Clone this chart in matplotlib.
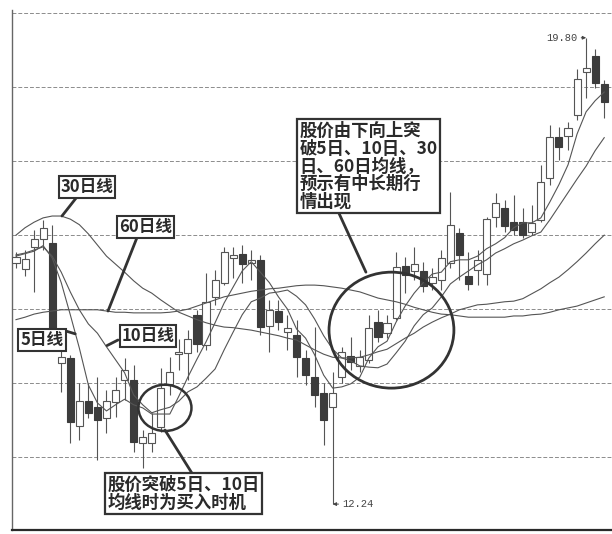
import numpy as np
import matplotlib
matplotlib.use("Agg")
import matplotlib.pyplot as plt
from matplotlib.patches import Ellipse

CJK = ["Noto Sans CJK SC", "DejaVu Sans"]
DARK = "#333333"
GREY = "#555555"

# ---- daily candles (price) ----
opens = [16.15, 16.05, 16.41, 16.54, 16.47, 14.53, 14.61, 13.51, 13.91, 13.81,
         13.64, 13.89, 14.25, 14.25, 13.23, 13.23, 13.49, 14.19, 14.67, 14.69,
         15.31, 14.82, 15.60, 15.83, 16.23, 16.30, 16.15, 16.20, 15.13, 15.37,
         15.03, 14.98, 14.61, 14.30, 14.04, 13.81, 14.30, 14.64, 14.48, 14.58,
         15.19, 15.01, 15.26, 16.10, 16.02, 16.02, 15.83, 15.87, 16.15, 16.64,
         15.94, 16.04, 15.97, 16.90, 17.04, 16.82, 16.82, 16.65, 16.85, 17.53,
         18.19, 18.21, 18.55, 19.25, 19.51, 19.05]
highs = [16.33, 16.36, 16.69, 16.85, 16.77, 14.74, 14.66, 14.20, 14.20, 14.30,
         14.09, 14.30, 14.61, 14.50, 13.44, 13.72, 14.45, 14.62, 14.92, 15.06,
         15.39, 15.99, 16.04, 16.41, 16.41, 16.44, 16.36, 16.28, 15.55, 15.55,
         15.31, 15.23, 14.74, 15.11, 14.20, 14.38, 14.79, 14.95, 14.74, 15.31,
         15.39, 15.31, 16.33, 16.25, 16.41, 16.17, 16.07, 16.36, 17.30, 16.72,
         16.33, 16.36, 16.90, 17.29, 17.17, 17.25, 17.04, 17.09, 17.74, 18.39,
         18.36, 18.44, 19.30, 19.80, 19.61, 19.12]
lows = [16.07, 15.94, 15.68, 16.36, 15.01, 14.06, 13.23, 13.28, 13.64, 12.95,
        13.39, 13.65, 13.93, 13.08, 12.82, 13.08, 13.41, 14.01, 14.41, 14.25,
        14.71, 14.74, 15.47, 15.79, 15.91, 15.83, 15.87, 14.98, 14.71, 15.06,
        14.74, 14.30, 14.17, 13.81, 13.20, 12.24, 14.20, 14.41, 14.38, 14.53,
        14.87, 14.93, 15.23, 15.66, 15.87, 15.68, 15.71, 15.71, 16.07, 15.87,
        15.71, 15.79, 15.79, 16.73, 16.65, 16.60, 16.56, 16.60, 16.82, 17.42,
        17.82, 17.98, 18.47, 18.83, 18.99, 18.50]
closes = [16.25, 16.21, 16.54, 16.72, 15.06, 14.62, 13.57, 13.91, 13.72, 13.60,
          13.91, 14.09, 14.41, 13.25, 13.33, 13.39, 14.12, 14.38, 14.71, 14.92,
          14.84, 15.52, 15.87, 16.33, 16.28, 16.13, 16.20, 15.11, 15.39, 15.19,
          15.10, 14.62, 14.33, 14.01, 13.60, 14.04, 14.71, 14.54, 14.62, 15.10,
          14.95, 15.18, 16.09, 15.96, 16.13, 15.78, 15.92, 16.23, 16.77, 16.28,
          15.81, 16.20, 16.86, 17.12, 16.75, 16.69, 16.60, 16.80, 17.46, 18.19,
          18.03, 18.34, 19.13, 19.31, 19.07, 18.76]

# ---- moving averages as drawn ----
ma5 = [16.26, 16.30, 16.34, 16.43, 16.23, 15.83, 15.31, 14.77, 14.17, 13.88,
       13.75, 13.85, 13.94, 13.85, 13.80, 13.70, 13.70, 13.70, 13.99, 14.30,
       14.59, 14.87, 15.18, 15.50, 15.76, 16.02, 16.17, 16.00, 15.83, 15.60,
       15.40, 15.08, 14.93, 14.66, 14.33, 14.12, 14.14, 14.19, 14.30, 14.61,
       14.79, 14.88, 15.19, 15.45, 15.66, 15.83, 15.97, 16.00, 16.17, 16.20,
       16.20, 16.26, 16.38, 16.46, 16.56, 16.72, 16.80, 16.80, 16.88, 17.14,
       17.42, 17.74, 18.24, 18.60, 18.78, 18.92]
ma10 = [16.28, 16.31, 16.36, 16.41, 16.26, 16.00, 15.68, 15.39, 15.16, 15.01,
        14.79, 14.58, 14.37, 14.01, 13.85, 13.72, 13.77, 13.81, 13.91, 14.06,
        14.14, 14.28, 14.43, 14.74, 15.03, 15.31, 15.52, 15.58, 15.66, 15.68,
        15.71, 15.61, 15.47, 15.24, 14.97, 14.75, 14.61, 14.56, 14.48, 14.46,
        14.45, 14.51, 14.69, 14.88, 15.13, 15.31, 15.42, 15.60, 15.81, 15.92,
        16.02, 16.12, 16.20, 16.31, 16.38, 16.46, 16.52, 16.59, 16.65, 16.85,
        17.07, 17.29, 17.51, 17.72, 17.97, 18.18]
ma30 = [16.60, 16.72, 16.81, 16.88, 16.91, 16.91, 16.86, 16.77, 16.62, 16.44,
        16.26, 16.13, 16.00, 15.86, 15.74, 15.66, 15.55, 15.45, 15.35, 15.29,
        15.23, 15.18, 15.14, 15.11, 15.10, 15.08, 15.06, 15.03, 15.00, 14.97,
        14.93, 14.90, 14.82, 14.74, 14.67, 14.62, 14.61, 14.61, 14.62, 14.66,
        14.71, 14.75, 14.84, 14.93, 15.01, 15.11, 15.19, 15.26, 15.32, 15.39,
        15.43, 15.47, 15.48, 15.50, 15.52, 15.53, 15.57, 15.65, 15.73, 15.83,
        15.92, 16.04, 16.17, 16.31, 16.46, 16.60]
ma60 = [15.23, 15.27, 15.32, 15.35, 15.37, 15.39, 15.39, 15.39, 15.39, 15.39,
        15.37, 15.35, 15.35, 15.34, 15.34, 15.34, 15.34, 15.35, 15.37, 15.40,
        15.45, 15.50, 15.55, 15.60, 15.63, 15.66, 15.69, 15.71, 15.73, 15.74,
        15.76, 15.78, 15.79, 15.79, 15.78, 15.76, 15.74, 15.71, 15.68, 15.63,
        15.58, 15.55, 15.52, 15.48, 15.43, 15.39, 15.35, 15.32, 15.31, 15.29,
        15.27, 15.27, 15.27, 15.27, 15.27, 15.29, 15.29, 15.31, 15.32, 15.35,
        15.39, 15.42, 15.45, 15.50, 15.55, 15.60]

grid_levels = [13.0, 14.2, 15.4, 16.6, 17.8, 19.0, 20.2]

o = np.array(opens); h = np.array(highs); l = np.array(lows); c = np.array(closes)
idx = np.arange(len(o))
up = c >= o

fig = plt.figure(figsize=(6.12, 5.34), dpi=100)
ax = fig.add_axes([12 / 612, 4 / 534, 600 / 612, 520 / 534])
ax.set_xlim(-0.44, 65.86)
ax.set_ylim(11.82, 20.25)

# grid
for g in grid_levels:
    ax.axhline(g, color="#8c8c8c", lw=0.7, ls=(0, (4, 2)), zorder=1)

# candles
ax.vlines(idx, l, h, color=GREY, lw=0.8, zorder=2)
body = np.maximum(np.abs(c - o), 0.03)
bottom = np.minimum(o, c)
ax.bar(idx[up], body[up], bottom=bottom[up], width=0.78,
       facecolor="white", edgecolor=GREY, lw=0.8, zorder=3)
ax.bar(idx[~up], body[~up], bottom=bottom[~up], width=0.78,
       facecolor="#3c3c3c", edgecolor="#3c3c3c", lw=0.8, zorder=3)

# moving averages
for ma in (ma5, ma10, ma30, ma60):
    ax.plot(idx, ma, color=GREY, lw=0.8, zorder=4)

# circles
ax.add_patch(Ellipse((16.46, 13.80), 5.86, 0.75, fill=False,
                     ec=DARK, lw=1.8, zorder=5))
ax.add_patch(Ellipse((41.49, 15.06), 13.8, 1.88, fill=False,
                     ec=DARK, lw=2.0, zorder=5))

# pointer lines
def pointer(x0, y0, x1, y1):
    ax.annotate("", xy=(x1, y1), xytext=(x0, y0),
                arrowprops=dict(arrowstyle="-", color=DARK, lw=2.0,
                                shrinkA=0, shrinkB=0), zorder=6)

pointer(6.74, 17.22, 5.08, 16.91)     # 30
pointer(13.37, 16.56, 10.17, 15.37)   # 60
pointer(5.41, 15.05, 6.55, 15.00)     # 5
pointer(11.27, 14.90, 10.06, 14.81)   # 10
pointer(16.46, 13.44, 19.45, 12.74)   # lower box
pointer(35.58, 16.99, 38.67, 16.00)   # upper box

box = dict(boxstyle="square,pad=0.12", fc="white", ec=DARK, lw=1.5)
lab = dict(family=CJK, weight="bold", color="#2a2a2a", zorder=7,
           ha="center", va="center")
ax.text(7.85, 17.38, "30日线", fontsize=12, bbox=box, **lab)
ax.text(14.36, 16.73, "60日线", fontsize=12, bbox=box, **lab)
ax.text(2.87, 14.90, "5日线", fontsize=12, bbox=box, **lab)
ax.text(14.59, 14.97, "10日线", fontsize=12, bbox=box, **lab)

box2 = dict(boxstyle="square,pad=0.15", fc="white", ec=DARK, lw=1.6)
ax.text(18.51, 12.41, "股价突破5日、10日\n均线时为买入时机", fontsize=12.5,
        linespacing=1.0, multialignment="left", bbox=box2, **lab)
ax.text(38.95, 17.715,
        "股价由下向上突\n破5日、10日、30\n日、60日均线，\n预示有中长期行\n情出现",
        fontsize=12.5, linespacing=0.98, multialignment="left",
        bbox=box2, **lab)

# extreme prices
ax.annotate("19.80", xy=(63, 19.80), xytext=(62.0, 19.80),
            ha="right", va="center", fontsize=7.5, family="Liberation Mono",
            color="#444444",
            arrowprops=dict(arrowstyle="-|>", color="#444444", lw=0.7,
                            mutation_scale=5, shrinkA=1, shrinkB=0))
ax.annotate("12.24", xy=(35, 12.24), xytext=(36.1, 12.24),
            ha="left", va="center", fontsize=7.5, family="Liberation Mono",
            color="#444444",
            arrowprops=dict(arrowstyle="-|>", color="#444444", lw=0.7,
                            mutation_scale=5, shrinkA=1, shrinkB=0))

ax.set_xticks([])
ax.set_yticks([])
for s in ("top", "right"):
    ax.spines[s].set_visible(False)
ax.spines["left"].set_color("#666666")
ax.spines["left"].set_linewidth(1.0)
ax.spines["bottom"].set_color("#2a2a2a")
ax.spines["bottom"].set_linewidth(1.6)

fig.savefig("out.png", dpi=100, facecolor="white")
